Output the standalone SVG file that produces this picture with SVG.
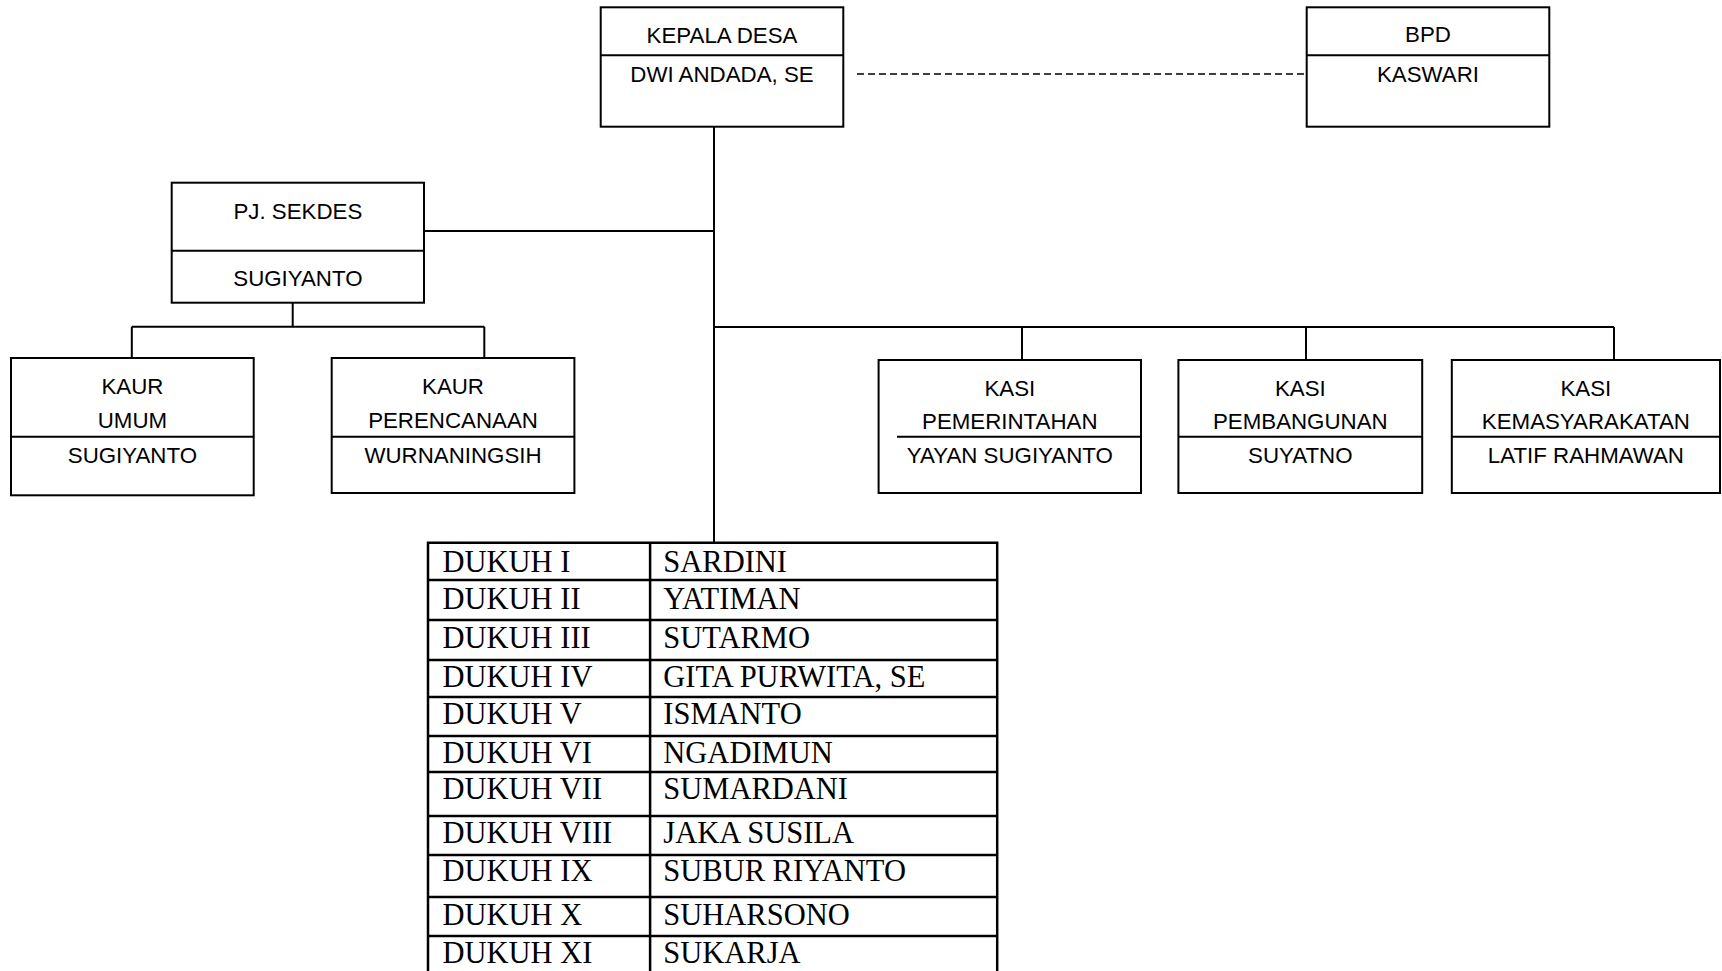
<svg xmlns="http://www.w3.org/2000/svg" width="1722" height="971" viewBox="0 0 1722 971">
<style>
.box{fill:#fff;stroke:#000;stroke-width:2}
.div{stroke:#000;stroke-width:2}
.ln{stroke:#000;stroke-width:2;fill:none}
.dash{stroke:#000;stroke-width:1.5;stroke-dasharray:7 4;fill:none}
.t{font-family:"Liberation Sans",Arial,sans-serif;font-size:22.3px;fill:#000;text-anchor:middle}
.tt{font-family:"Liberation Serif","Times New Roman",serif;font-size:30.5px;fill:#000}
.tb{stroke:#000;stroke-width:2.5;fill:none}
</style>
<rect width="1722" height="971" fill="#fff"/>
<g id="connectors">
<line class="ln" x1="714" y1="126.7" x2="714" y2="543"/>
<line class="ln" x1="424" y1="231" x2="714" y2="231"/>
<line class="ln" x1="714" y1="327" x2="1614" y2="327"/>
<line class="ln" x1="1022" y1="327" x2="1022" y2="360"/>
<line class="ln" x1="1306" y1="327" x2="1306" y2="360"/>
<line class="ln" x1="1614" y1="327" x2="1614" y2="360"/>
<line class="ln" x1="292.7" y1="302.7" x2="292.7" y2="326.7"/>
<line class="ln" x1="131.8" y1="326.7" x2="484.3" y2="326.7"/>
<line class="ln" x1="131.8" y1="326.7" x2="131.8" y2="358"/>
<line class="ln" x1="484.3" y1="326.7" x2="484.3" y2="358"/>
<line class="dash" x1="857" y1="74" x2="1306" y2="74"/>
</g>
<g id="kepala-desa">
<rect class="box" x="600.7" y="7.3" width="242.6" height="119.4"/>
<line class="div" x1="600.7" y1="55.3" x2="843.3" y2="55.3"/>
<text class="t" x="722" y="43.3">KEPALA DESA</text>
<text class="t" x="722" y="81.7">DWI ANDADA, SE</text>
</g>
<g id="bpd">
<rect class="box" x="1306.7" y="7.3" width="242.6" height="119.4"/>
<line class="div" x1="1306.7" y1="55.3" x2="1549.3" y2="55.3"/>
<text class="t" x="1428" y="41.7">BPD</text>
<text class="t" x="1428" y="81.7">KASWARI</text>
</g>
<g id="sekdes">
<rect class="box" x="171.7" y="182.7" width="252.3" height="120"/>
<line class="div" x1="171.7" y1="250.7" x2="424" y2="250.7"/>
<text class="t" x="297.9" y="219.3">PJ. SEKDES</text>
<text class="t" x="297.9" y="286">SUGIYANTO</text>
</g>
<g id="kaur-umum">
<rect class="box" x="11" y="358" width="242.7" height="137.3"/>
<line class="div" x1="11" y1="436.7" x2="253.7" y2="436.7"/>
<text class="t" x="132.4" y="394">KAUR</text>
<text class="t" x="132.4" y="428.3">UMUM</text>
<text class="t" x="132.4" y="462.7">SUGIYANTO</text>
</g>
<g id="kaur-perencanaan">
<rect class="box" x="331.7" y="358" width="242.7" height="135"/>
<line class="div" x1="331.7" y1="436.7" x2="574.4" y2="436.7"/>
<text class="t" x="453" y="394">KAUR</text>
<text class="t" x="453" y="428.3">PERENCANAAN</text>
<text class="t" x="453" y="462.7">WURNANINGSIH</text>
</g>
<g id="kasi-pemerintahan">
<rect class="box" x="878.6" y="360" width="262.4" height="133"/>
<line class="div" x1="897" y1="436.7" x2="1141" y2="436.7"/>
<text class="t" x="1009.8" y="396">KASI</text>
<text class="t" x="1009.8" y="429">PEMERINTAHAN</text>
<text class="t" x="1009.8" y="462.5">YAYAN SUGIYANTO</text>
</g>
<g id="kasi-pembangunan">
<rect class="box" x="1178.4" y="360" width="243.8" height="133"/>
<line class="div" x1="1178.4" y1="436.7" x2="1422.2" y2="436.7"/>
<text class="t" x="1300.3" y="396">KASI</text>
<text class="t" x="1300.3" y="429">PEMBANGUNAN</text>
<text class="t" x="1300.3" y="462.5">SUYATNO</text>
</g>
<g id="kasi-kemasyarakatan">
<rect class="box" x="1451.8" y="360" width="268.2" height="133"/>
<line class="div" x1="1451.8" y1="436.7" x2="1720" y2="436.7"/>
<text class="t" x="1585.9" y="396">KASI</text>
<text class="t" x="1585.9" y="429">KEMASYARAKATAN</text>
<text class="t" x="1585.9" y="462.5">LATIF RAHMAWAN</text>
</g>
<g id="dukuh-table">
<path class="tb" d="M428,971 V542.7 H997.2 V971 M650.1,542.7 V971"/>
<path class="tb" d="M428,580 H997.2 M428,620 H997.2 M428,660 H997.2 M428,697 H997.2 M428,736 H997.2 M428,772 H997.2 M428,816 H997.2 M428,855 H997.2 M428,897 H997.2 M428,936 H997.2"/>
<text class="tt" x="442.5" y="571.5">DUKUH I</text>
<text class="tt" x="663.3" y="571.5">SARDINI</text>
<text class="tt" x="442.5" y="609">DUKUH II</text>
<text class="tt" x="663.3" y="609">YATIMAN</text>
<text class="tt" x="442.5" y="648">DUKUH III</text>
<text class="tt" x="663.3" y="648">SUTARMO</text>
<text class="tt" x="442.5" y="687">DUKUH IV</text>
<text class="tt" x="663.3" y="687">GITA PURWITA, SE</text>
<text class="tt" x="442.5" y="723.5">DUKUH V</text>
<text class="tt" x="663.3" y="723.5">ISMANTO</text>
<text class="tt" x="442.5" y="762.5">DUKUH VI</text>
<text class="tt" x="663.3" y="762.5">NGADIMUN</text>
<text class="tt" x="442.5" y="798.5">DUKUH VII</text>
<text class="tt" x="663.3" y="798.5">SUMARDANI</text>
<text class="tt" x="442.5" y="843">DUKUH VIII</text>
<text class="tt" x="663.3" y="843">JAKA SUSILA</text>
<text class="tt" x="442.5" y="881">DUKUH IX</text>
<text class="tt" x="663.3" y="881">SUBUR RIYANTO</text>
<text class="tt" x="442.5" y="925">DUKUH X</text>
<text class="tt" x="663.3" y="925">SUHARSONO</text>
<text class="tt" x="442.5" y="963">DUKUH XI</text>
<text class="tt" x="663.3" y="963">SUKARJA</text>
</g>
</svg>
